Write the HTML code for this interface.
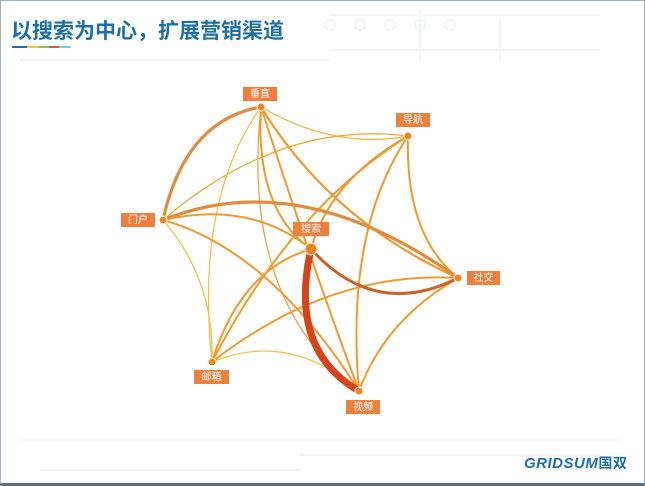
<!DOCTYPE html>
<html><head><meta charset="utf-8"><style>
html,body{margin:0;padding:0;}
body{width:645px;height:486px;position:relative;overflow:hidden;background:#fff;font-family:"Liberation Sans","Noto Sans CJK SC",sans-serif;}
.frame{position:absolute;left:0;top:0;border:1px solid #9fb3c8;border-bottom:3px solid #5c6f80;box-sizing:border-box;width:645px;height:486px;}
.title{position:absolute;left:11px;top:15px;font-size:21px;font-weight:bold;color:#1d6fa6;}
.lab{position:absolute;background:#ef7f3e;color:#fff;font-size:10px;line-height:15px;height:14px;text-align:center;}
.logo{position:absolute;left:524px;top:453px;font-size:15px;font-weight:bold;font-style:italic;color:#1d6fa6;letter-spacing:0.5px;}
</style></head><body>
<svg width="645" height="486" style="position:absolute;left:0;top:0">
<g stroke="#f3f4f6" stroke-width="2" fill="none">
<path d="M330 15 H600 M330 50 H600 M20 60 H330 M420 10 V60 M500 60 V20 M20 440 H620 M300 455 H600 M40 470 H300"/>
<circle cx="330" cy="25" r="5"/><circle cx="360" cy="25" r="5"/><circle cx="390" cy="25" r="5"/><circle cx="420" cy="25" r="5"/><circle cx="450" cy="25" r="5"/>
</g>
<g fill="none" stroke-linecap="round">
<path d="M261 107 Q335 150 408 136" stroke="#f2b544" stroke-width="1.3"/>
<path d="M408 136 Q280 120 163 220" stroke="#f0a938" stroke-width="1.3"/>
<path d="M261 107 Q195 200 212 362" stroke="#f3c04a" stroke-width="1.3"/>
<path d="M163 220 Q215 280 212 362" stroke="#f3c04a" stroke-width="1.3"/>
<path d="M212 362 Q290 330 359 391" stroke="#f3c04a" stroke-width="1.3"/>
<path d="M261 107 Q240 300 359 391" stroke="#eea04a" stroke-width="1.3"/>
<path d="M261 107 Q255 210 311 249" stroke="#ef9a2e" stroke-width="2"/>
<path d="M261 107 Q330 220 458 278" stroke="#ef9a2e" stroke-width="2.2"/>
<path d="M261 107 Q310 260 359 391" stroke="#ef9a2e" stroke-width="2"/>
<path d="M408 136 Q330 180 311 249" stroke="#ef9a2e" stroke-width="2"/>
<path d="M408 136 Q290 210 212 362" stroke="#ef9a2e" stroke-width="2"/>
<path d="M408 136 Q345 230 359 391" stroke="#ef9a2e" stroke-width="2"/>
<path d="M408 136 Q405 235 458 278" stroke="#ef9a2e" stroke-width="2"/>
<path d="M163 220 Q250 200 311 249" stroke="#ef9a2e" stroke-width="2"/>
<path d="M163 220 Q270 250 359 391" stroke="#ef9a2e" stroke-width="2"/>
<path d="M311 249 Q240 270 212 362" stroke="#ef9a2e" stroke-width="2"/>
<path d="M458 278 Q330 270 212 362" stroke="#ef9a2e" stroke-width="2"/>
<path d="M458 278 Q385 320 359 391" stroke="#ef9a2e" stroke-width="2"/>
<path d="M261 107 Q185 120 163 220" stroke="#e08b3e" stroke-width="3.2"/>
<path d="M163 220 Q300 165 458 278" stroke="#e08b3e" stroke-width="3.2"/>
<path d="M311 249 Q375 320 458 278" stroke="#d0602a" stroke-width="3"/>
<path d="M311 249 Q288 350 359 391" stroke="#d4461a" stroke-width="7"/>
</g>
<g fill="#f0851f" stroke="#fff" stroke-width="1">
<circle cx="261" cy="107" r="4"/><circle cx="408" cy="136" r="4"/><circle cx="163" cy="220" r="4"/>
<circle cx="311" cy="249" r="6"/><circle cx="458" cy="278" r="4"/><circle cx="212" cy="362" r="4"/><circle cx="359" cy="391" r="4"/>
</g>
<rect x="12" y="46" width="15" height="2" fill="#1d6fa6"/><rect x="27" y="46" width="12" height="2" fill="#f3c531"/>
<rect x="39" y="46" width="10" height="2" fill="#8cc152"/><rect x="49" y="46" width="10" height="2" fill="#e74c3c"/>
<rect x="59" y="46" width="12" height="2" fill="#6fd0e8"/>
</svg>
<div class="frame"></div>
<div class="title">以搜索为中心，扩展营销渠道</div>
<div class="lab" style="left:243px;top:87px;width:34px">垂直</div>
<div class="lab" style="left:396px;top:113px;width:34px">导航</div>
<div class="lab" style="left:121px;top:213px;width:34px">门户</div>
<div class="lab" style="left:293px;top:222px;width:36px">搜索</div>
<div class="lab" style="left:467px;top:271px;width:33px">社交</div>
<div class="lab" style="left:194px;top:370px;width:35px">邮箱</div>
<div class="lab" style="left:346px;top:400px;width:34px">视频</div>
<div class="logo">GRIDSUM<span style="font-style:normal;font-size:14px">国双</span></div>
</body></html>
